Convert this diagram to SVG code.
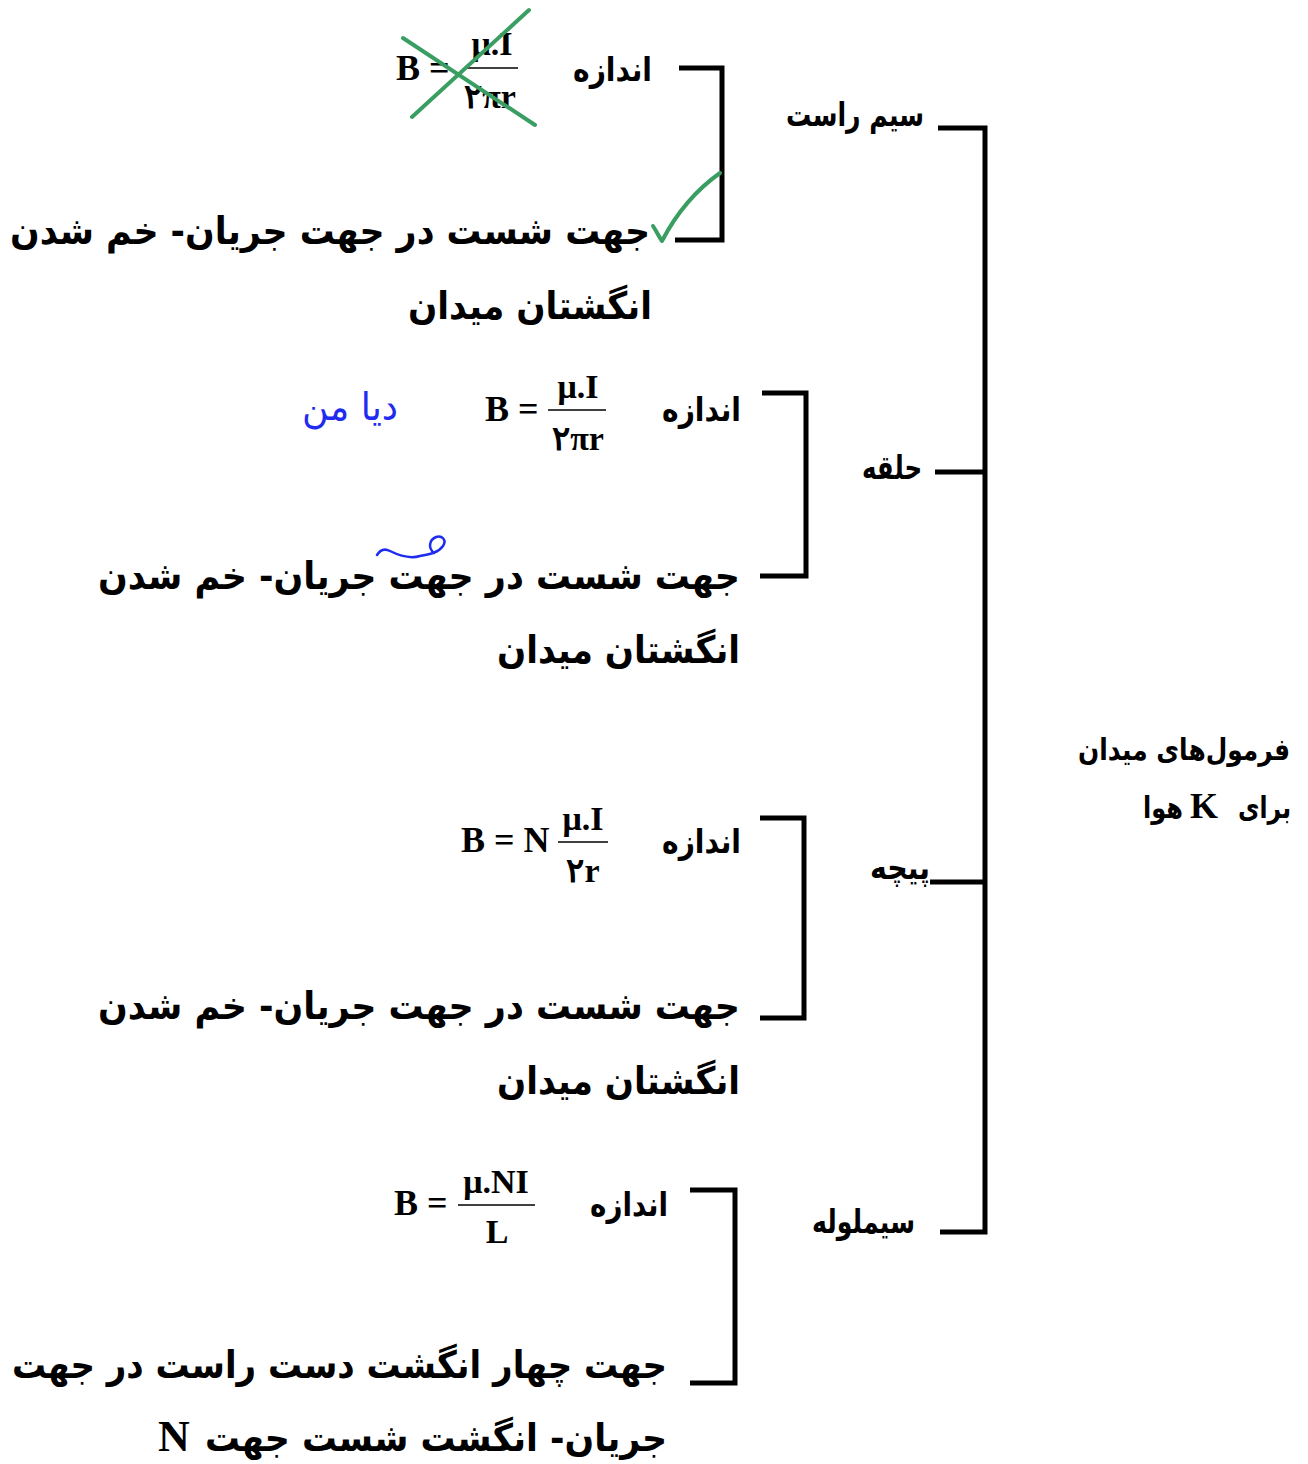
<svg xmlns="http://www.w3.org/2000/svg" width="1308" height="1464" viewBox="0 0 1308 1464">
<style>
.fa{font-family:"DejaVu Sans","Noto Sans",sans-serif;font-weight:bold;fill:#000}
.t34{font-size:38px}
.t30{font-size:33px}
.t28{font-size:30px}
.m{font-family:"Liberation Serif","DejaVu Serif",serif;font-weight:bold;fill:#000}
.br{fill:none;stroke:#000;stroke-width:5;stroke-linecap:butt;stroke-linejoin:miter}
.fl{stroke:#000;stroke-width:1.5}
.green{fill:none;stroke:#3a9e62;stroke-width:4;stroke-linecap:round;stroke-linejoin:round}
.blue{fill:none;stroke:#1f2cf0;stroke-width:2.5;stroke-linecap:round;stroke-linejoin:round}
</style>
<rect width="1308" height="1464" fill="#fff"/>
<g id="connectors">
<path class="br" d="M938,128 H985 V1232 H940"/>
<path class="br" d="M935,472 H985"/>
<path class="br" d="M930,882 H985"/>
<path class="br" d="M679,68 H722 V240 H675"/>
<path class="br" d="M762,393 H806 V576 H760"/>
<path class="br" d="M760,818 H804 V1018 H760"/>
<path class="br" d="M690,1190 H735 V1383 H690"/>
</g>
<g id="root">
<text class="fa t28" x="1078" y="760" textLength="212" lengthAdjust="spacingAndGlyphs">فرمول‌های میدان</text>
<text class="fa t28" x="1238" y="818" textLength="53" lengthAdjust="spacingAndGlyphs">برای</text>
<text class="m" x="1190" y="818" font-size="36">K</text>
<text class="fa t28" x="1143" y="818" textLength="40" lengthAdjust="spacingAndGlyphs">هوا</text>
</g>
<g id="node-wire">
<text class="fa t30" x="786" y="126" textLength="138" lengthAdjust="spacingAndGlyphs">سیم راست</text>
</g>
<g id="node-loop">
<text class="fa t30" x="862" y="479" textLength="60" lengthAdjust="spacingAndGlyphs">حلقه</text>
</g>
<g id="node-coil">
<text class="fa t30" x="870" y="879" textLength="60" lengthAdjust="spacingAndGlyphs">پیچه</text>
</g>
<g id="node-solenoid">
<text class="fa t30" x="812" y="1233" textLength="103" lengthAdjust="spacingAndGlyphs">سیملوله</text>
</g>
<g id="wire-size">
<text class="fa t30" x="573" y="81" textLength="79" lengthAdjust="spacingAndGlyphs">اندازه</text>
<text class="m" x="396" y="80" font-size="36">B =</text>
<text class="m" x="492" y="55" font-size="34" text-anchor="middle">μ.I</text>
<line class="fl" x1="466" y1="68" x2="518" y2="68"/>
<text class="m" x="490" y="108" font-size="34" text-anchor="middle">۲πr</text>
<path class="green" d="M412,117 L529,10"/>
<path class="green" d="M403,38 L535,125"/>
</g>
<g id="wire-dir">
<text class="fa t34" x="10" y="244" textLength="640" lengthAdjust="spacingAndGlyphs">جهت شست در جهت جریان- خم شدن</text>
<text class="fa t34" x="408" y="319" textLength="244" lengthAdjust="spacingAndGlyphs">انگشتان میدان</text>
<path class="green" d="M653,226 C657,232 659,237 662,241 C676,214 696,190 720,173"/>
</g>
<g id="loop-size">
<text class="fa t30" x="662" y="421" textLength="79" lengthAdjust="spacingAndGlyphs">اندازه</text>
<text class="m" x="485" y="421" font-size="36">B =</text>
<text class="m" x="578" y="398" font-size="34" text-anchor="middle">μ.I</text>
<line class="fl" x1="548" y1="410" x2="606" y2="410"/>
<text class="m" x="578" y="450" font-size="34" text-anchor="middle">۲πr</text>
<text x="302" y="420" font-family="DejaVu Sans,sans-serif" font-size="38" fill="#1f2cf0" textLength="96" lengthAdjust="spacingAndGlyphs">دیا من</text>
</g>
<g id="loop-dir">
<text class="fa t34" x="98" y="589" textLength="642" lengthAdjust="spacingAndGlyphs">جهت شست در جهت جریان- خم شدن</text>
<text class="fa t34" x="497" y="663" textLength="243" lengthAdjust="spacingAndGlyphs">انگشتان میدان</text>
<path class="blue" d="M377,555 C380,550 384,548 390,551 C400,556 410,559 420,556 C430,554 438,553 443,546 C447,540 442,535 436,537 C429,540 428,548 434,553"/>
</g>
<g id="coil-size">
<text class="fa t30" x="662" y="853" textLength="79" lengthAdjust="spacingAndGlyphs">اندازه</text>
<text class="m" x="461" y="852" font-size="36">B = N</text>
<text class="m" x="583" y="830" font-size="34" text-anchor="middle">μ.I</text>
<line class="fl" x1="558" y1="842" x2="608" y2="842"/>
<text class="m" x="583" y="882" font-size="34" text-anchor="middle">۲r</text>
</g>
<g id="coil-dir">
<text class="fa t34" x="98" y="1019" textLength="642" lengthAdjust="spacingAndGlyphs">جهت شست در جهت جریان- خم شدن</text>
<text class="fa t34" x="497" y="1094" textLength="243" lengthAdjust="spacingAndGlyphs">انگشتان میدان</text>
</g>
<g id="solenoid-size">
<text class="fa t30" x="590" y="1216" textLength="78" lengthAdjust="spacingAndGlyphs">اندازه</text>
<text class="m" x="394" y="1215" font-size="36">B =</text>
<text class="m" x="496" y="1193" font-size="34" text-anchor="middle">μ.NI</text>
<line class="fl" x1="458" y1="1205" x2="535" y2="1205"/>
<text class="m" x="497" y="1243" font-size="34" text-anchor="middle">L</text>
</g>
<g id="solenoid-dir">
<text class="fa t34" x="12" y="1378" textLength="655" lengthAdjust="spacingAndGlyphs">جهت چهار انگشت دست راست در جهت</text>
<text class="fa t34" x="205" y="1451" textLength="462" lengthAdjust="spacingAndGlyphs">جریان- انگشت شست جهت</text>
<text class="m" x="158" y="1451" font-size="44">N</text>
</g>
</svg>
